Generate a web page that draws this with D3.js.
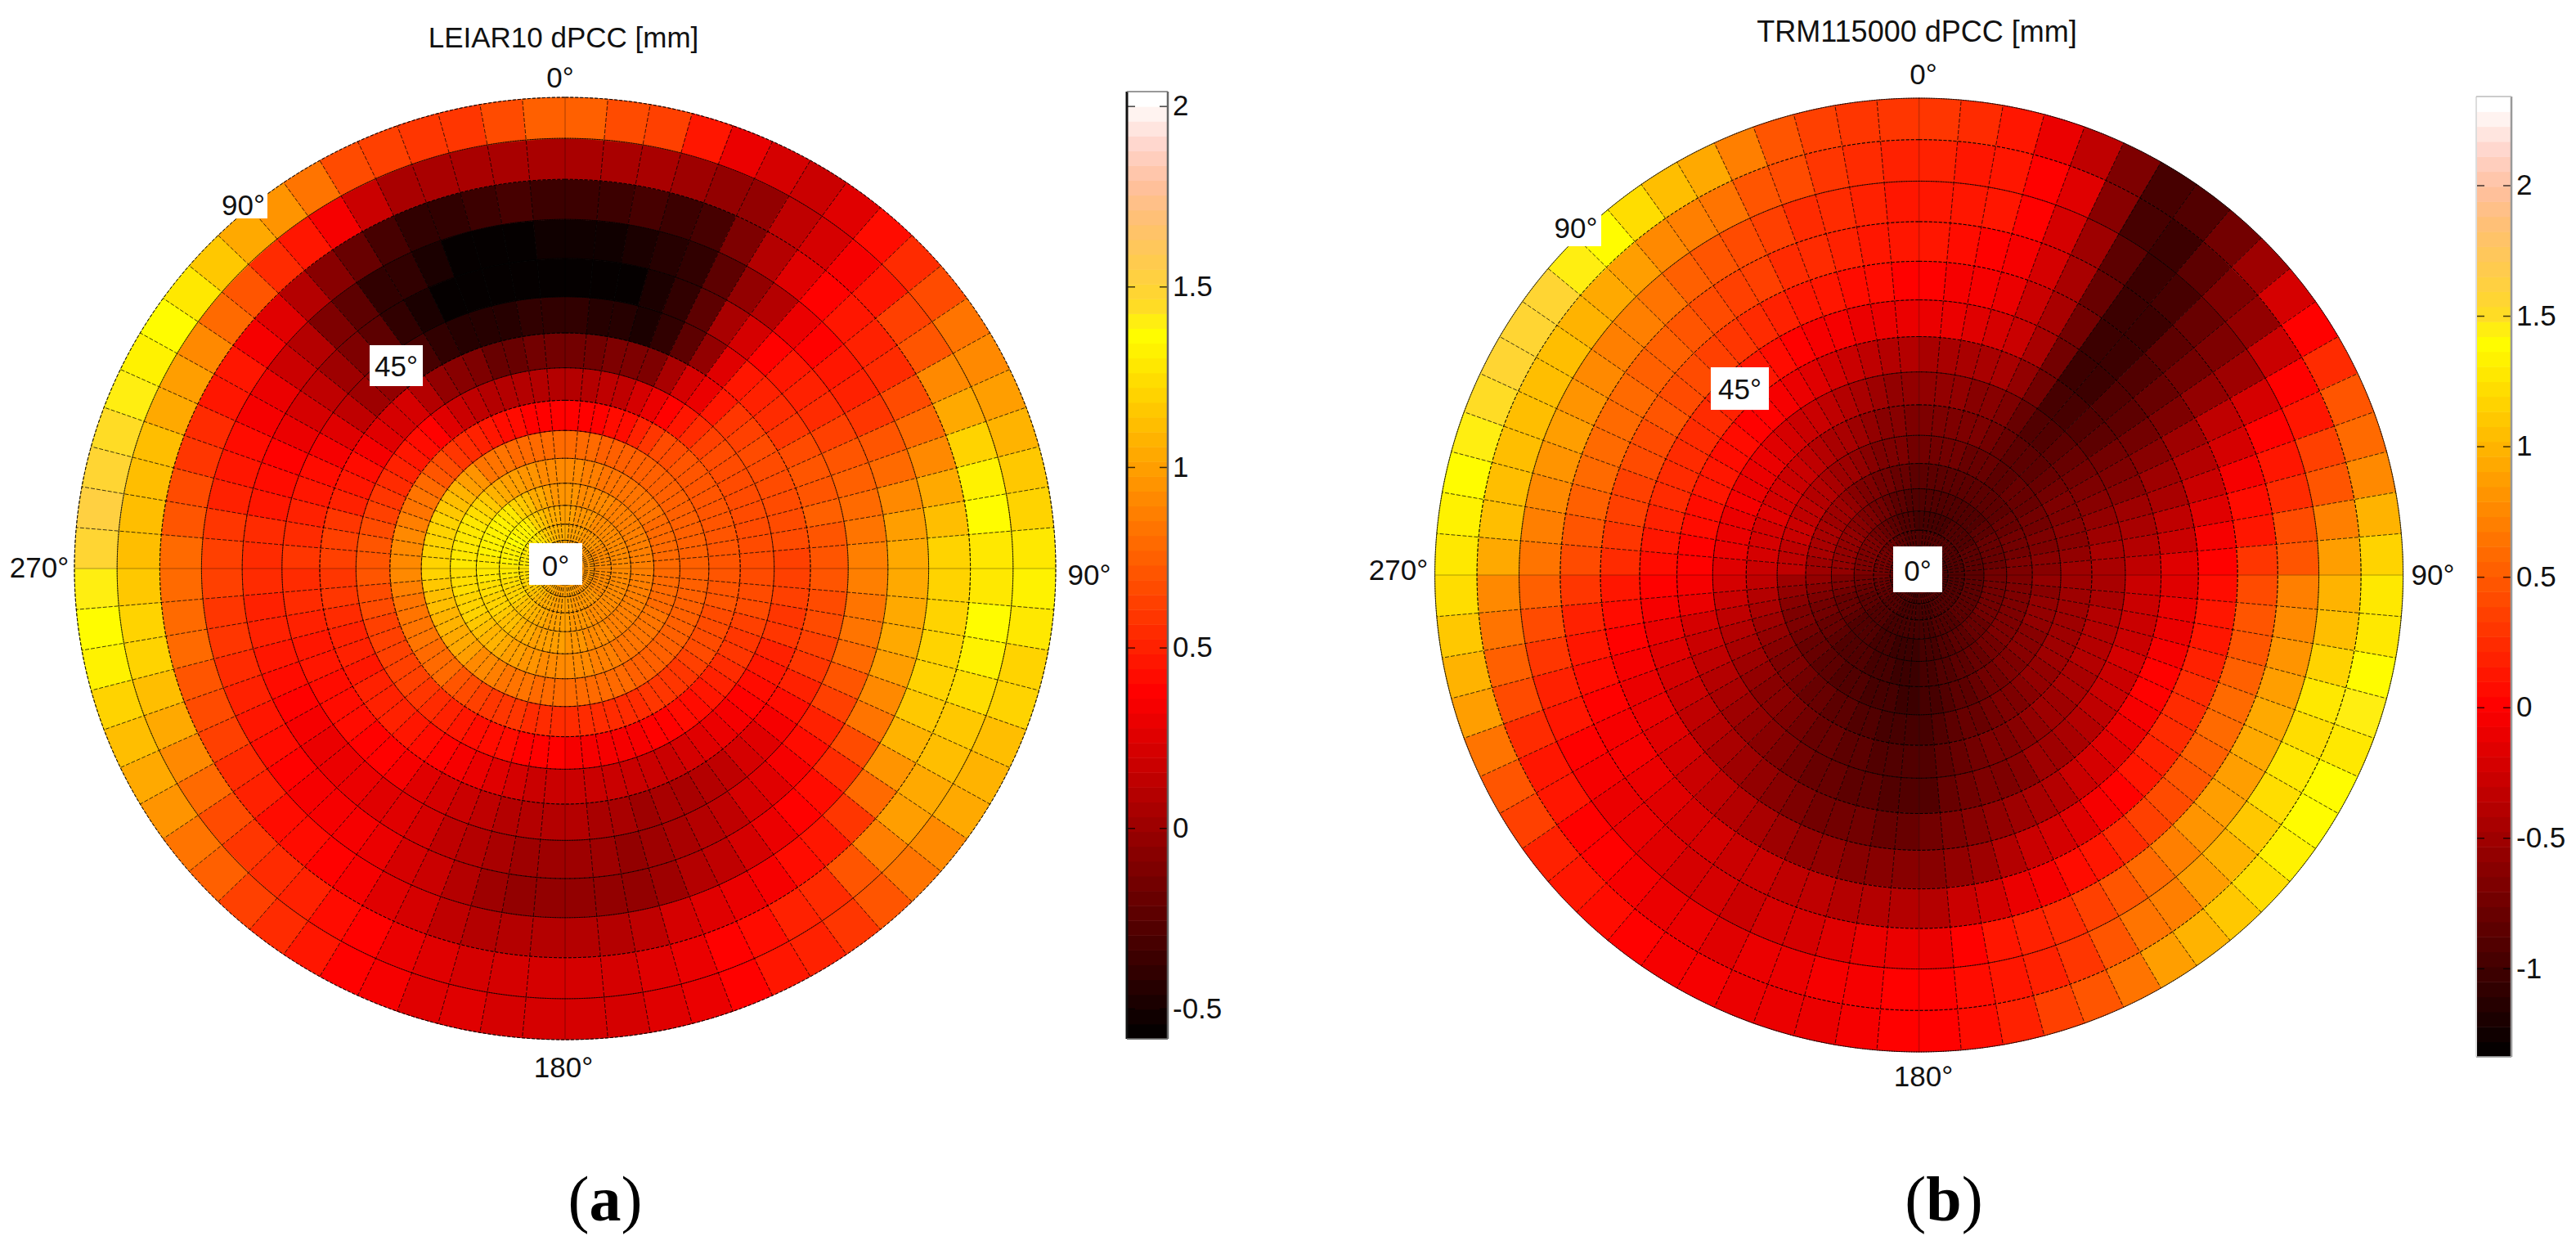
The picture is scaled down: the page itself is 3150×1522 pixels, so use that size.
<!DOCTYPE html>
<html>
<head>
<meta charset="utf-8">
<script src="https://d3js.org/d3.v7.min.js"></script>
<style>
  html, body { margin: 0; background: #fff; }
  text { font-family: "Liberation Sans", Arial, sans-serif; fill: #111; }
  .caption { font-family: "Liberation Serif", serif; font-size: 78px; fill: #000; }
</style>
</head>
<body>
<div id="container"></div>
<script>
const azimuths = d3.range(0, 360, 5);
const zenithEdges = [0, 5, 10, 15, 20, 25, 30, 35, 40, 45, 50, 55, 60, 65, 70, 75, 80, 85, 90];

const leiarTicks = [-0.5, 0, 0.5, 1, 1.5, 2];
const trmTicks = [-1, -0.5, 0, 0.5, 1, 1.5, 2];

// colour map, position 0..1 from the bottom
const mapStops = [0, 0.365, 0.746, 0.77, 0.803, 0.861, 0.904, 0.947, 0.99, 1];
const mapColors = ["#000000", "#ff0000", "#ffff00", "#ffdd22", "#ffd040", "#ffc070", "#ffc0a0", "#ffd8d0", "#ffffff", "#ffffff"];

// LEIAR10 dPCC [mm], one array per zenith ring, azimuth 0..355 clockwise in 5 deg steps
const leiarZ05 = [
  1,1,1,1,1,1,1,1,1,1,1,1,1,1,1,1,1,1,
  1,1,1,1,1,1,1,1,1,1,1,1,1,1,1,1,1,1,
  1,1,1,1,1,1,1,1,1,1,1,1,1,1,1,1,1,1,
  1,1,1,1,1,1,1,1,1,1,1,1,1,1,1,1,1,1];
const leiarZ10 = [
  1,1,1,1,1,1,.99,.99,.99,.99,.99,.99,.99,.99,.99,.99,.99,.99,
  .99,.99,.99,.99,.99,.99,.99,.99,.99,.99,.99,.99,.99,.99,.99,1,1,1,
  1,1,1,1,1,1,1,1,1.01,1.01,1.02,1.02,1.03,1.03,1.04,1.04,1.05,1.05,
  1.05,1.05,1.05,1.06,1.06,1.06,1.06,1.06,1.06,1.05,1.05,1.04,1.04,1.03,1.02,1.02,1.01,1];
const leiarZ15 = [
  1,1,1,.99,.99,.99,.98,.98,.98,.98,.97,.97,.97,.97,.97,.97,.97,.97,
  .97,.97,.97,.97,.97,.97,.97,.97,.98,.98,.98,.98,.98,.98,.99,.99,.99,1,
  1,1,1,1,1,1.01,1.02,1.02,1.03,1.04,1.05,1.06,1.07,1.08,1.09,1.1,1.1,1.1,
  1.1,1.11,1.12,1.12,1.12,1.13,1.13,1.13,1.12,1.12,1.1,1.09,1.08,1.06,1.05,1.03,1.02,1.01];
const leiarZ20 = [
  1.02,1.01,1,.99,.99,.98,.98,.97,.97,.96,.96,.96,.96,.96,.96,.96,.96,.96,
  .96,.96,.96,.96,.96,.96,.96,.96,.96,.96,.97,.97,.97,.98,.98,.98,.99,.99,
  1,1,1,1,1.01,1.02,1.03,1.04,1.05,1.07,1.08,1.09,1.1,1.12,1.13,1.15,1.16,1.18,
  1.2,1.2,1.2,1.21,1.21,1.22,1.22,1.22,1.21,1.2,1.17,1.15,1.12,1.1,1.07,1.05,1.04,1.03];
const leiarZ25 = [
  1.02,1,.99,.98,.98,.97,.96,.95,.94,.94,.94,.93,.93,.93,.93,.93,.93,.93,
  .93,.93,.93,.93,.93,.93,.93,.93,.94,.94,.94,.95,.95,.96,.96,.97,.98,.99,
  1,1,1,1.01,1.02,1.03,1.05,1.06,1.08,1.1,1.13,1.15,1.17,1.19,1.21,1.23,1.24,1.25,
  1.27,1.27,1.28,1.29,1.29,1.3,1.3,1.3,1.28,1.27,1.24,1.2,1.16,1.12,1.09,1.06,1.04,1.03];
const leiarZ30 = [
  1,.98,.97,.96,.95,.94,.93,.92,.91,.9,.9,.9,.9,.9,.9,.9,.9,.9,
  .9,.9,.9,.9,.9,.9,.9,.9,.91,.91,.92,.92,.93,.94,.95,.96,.97,.98,
  1,1,1,1.01,1.02,1.04,1.06,1.08,1.1,1.13,1.16,1.18,1.2,1.22,1.24,1.26,1.28,1.29,
  1.3,1.31,1.32,1.33,1.34,1.35,1.35,1.34,1.33,1.32,1.28,1.22,1.17,1.12,1.08,1.05,1.02,1];
const leiarZ35 = [
  .95,.95,.93,.92,.92,.9,.9,.88,.88,.87,.87,.87,.86,.86,.86,.86,.86,.87,
  .87,.87,.87,.87,.87,.88,.88,.88,.88,.88,.89,.9,.91,.92,.93,.94,.95,.96,
  .98,.98,.98,1,1.01,1.03,1.05,1.07,1.1,1.13,1.16,1.18,1.2,1.22,1.24,1.26,1.27,1.28,
  1.3,1.3,1.31,1.32,1.33,1.33,1.33,1.32,1.3,1.27,1.2,1.15,1.1,1.05,1.02,1,.97,.95];
const leiarZ40 = [
  .9,.9,.88,.87,.85,.85,.84,.83,.82,.82,.81,.81,.8,.8,.8,.8,.8,.8,
  .8,.8,.8,.8,.8,.81,.82,.82,.82,.82,.83,.85,.86,.87,.88,.9,.9,.92,
  .93,.93,.93,.95,.97,.98,1,1.03,1.06,1.08,1.12,1.15,1.18,1.2,1.22,1.24,1.25,1.26,
  1.27,1.28,1.28,1.28,1.27,1.27,1.25,1.2,1.15,1.07,1.02,1,.98,.96,.94,.92,.9,.9];
const leiarZ45 = [
  .8,.8,.78,.76,.75,.75,.75,.75,.75,.75,.74,.74,.74,.74,.74,.74,.74,.74,
  .73,.74,.74,.74,.74,.74,.75,.75,.75,.74,.75,.76,.77,.78,.78,.78,.79,.8,
  .8,.8,.8,.82,.83,.85,.87,.9,.93,.98,1.02,1.05,1.07,1.08,1.1,1.12,1.15,1.18,
  1.2,1.2,1.2,1.2,1.18,1.15,1.12,1.06,1,.95,.85,.83,.82,.8,.8,.8,.8,.8];
const leiarZ50 = [
  .38,.38,.38,.4,.43,.5,.6,.65,.68,.7,.7,.7,.7,.7,.7,.7,.7,.7,
  .7,.7,.7,.68,.67,.65,.65,.63,.6,.6,.58,.57,.56,.55,.55,.55,.55,.55,
  .55,.55,.55,.57,.58,.6,.62,.67,.72,.78,.8,.8,.82,.82,.83,.85,.88,.9,
  .92,.92,.9,.88,.85,.82,.78,.72,.68,.6,.55,.5,.46,.43,.4,.38,.38,.38];
const leiarZ55 = [
  .1,.1,.12,.15,.2,.28,.38,.45,.55,.62,.65,.67,.68,.68,.68,.67,.67,.67,
  .67,.67,.65,.63,.6,.57,.55,.52,.47,.42,.4,.37,.36,.35,.34,.33,.32,.35,
  .38,.38,.38,.4,.4,.42,.45,.5,.55,.6,.62,.62,.62,.62,.64,.66,.68,.7,
  .72,.7,.67,.63,.6,.55,.5,.46,.42,.38,.25,.18,.12,.1,.08,.08,.1,.1];
const leiarZ60 = [
  -.14,-.14,-.13,-.13,-.1,.05,.2,.3,.45,.6,.62,.65,.67,.68,.68,.66,.65,.64,
  .64,.63,.6,.58,.52,.47,.42,.38,.33,.28,.24,.2,.18,.17,.16,.17,.18,.18,
  .18,.18,.2,.24,.28,.33,.38,.42,.47,.52,.5,.5,.48,.5,.52,.55,.58,.6,
  .62,.62,.58,.52,.47,.4,.32,.25,.2,.2,.1,-.02,-.08,-.12,-.18,-.18,-.15,-.14];
const leiarZ65 = [
  -.42,-.43,-.44,-.47,-.42,-.22,-.02,.25,.45,.5,.55,.6,.66,.7,.72,.74,.72,.7,
  .7,.68,.65,.62,.58,.5,.43,.35,.27,.23,.15,.1,.06,.06,.03,.05,.07,.08,
  .08,.08,.1,.14,.18,.22,.27,.32,.36,.38,.4,.42,.42,.45,.48,.5,.53,.56,
  .58,.56,.5,.46,.42,.34,.25,.15,.03,-.05,-.18,-.3,-.42,-.46,-.46,-.44,-.42,-.42];
const leiarZ70 = [
  -.57,-.58,-.56,-.5,-.42,-.22,.05,.2,.38,.45,.5,.55,.63,.7,.75,.8,.85,.87,
  .87,.85,.82,.78,.72,.62,.5,.42,.35,.27,.2,.15,.1,.05,0,-.01,0,0,
  0,0,.04,.09,.15,.2,.24,.27,.28,.29,.31,.34,.38,.42,.46,.5,.52,.55,
  .55,.53,.48,.44,.38,.3,.22,.12,.02,-.1,-.25,-.4,-.48,-.55,-.58,-.58,-.58,-.57];
const leiarZ75 = [
  -.53,-.53,-.5,-.46,-.42,-.25,-.05,.1,.3,.38,.45,.5,.6,.7,.8,.9,1,1.03,
  1.03,1.03,1.02,.98,.92,.82,.68,.55,.42,.38,.28,.2,.15,.08,.02,-.02,-.02,-.02,
  -.02,-.02,.02,.08,.16,.23,.28,.32,.33,.33,.37,.4,.45,.5,.55,.58,.6,.62,
  .62,.58,.52,.48,.42,.35,.28,.18,.08,-.1,-.25,-.38,-.42,-.48,-.56,-.56,-.55,-.54];
const leiarZ80 = [
  -.35,-.35,-.33,-.36,-.32,-.1,.1,.25,.38,.45,.5,.55,.67,.8,.9,1.03,1.12,1.18,
  1.2,1.22,1.22,1.22,1.15,1.08,.95,.8,.6,.47,.42,.35,.3,.25,.2,.14,.1,.08,
  .08,.08,.1,.14,.2,.27,.33,.38,.4,.42,.5,.55,.62,.68,.72,.78,.8,.8,
  .8,.72,.66,.6,.55,.47,.45,.35,.25,.08,-.06,-.2,-.3,-.38,-.4,-.35,-.33,-.35];
const leiarZ85 = [
  .06,.06,.05,0,-.02,-.05,.13,.22,.33,.47,.62,.7,.9,1.03,1.2,1.33,1.36,1.3,
  1.28,1.36,1.33,1.25,1.15,1.12,1.05,.98,.87,.72,.56,.5,.44,.38,.3,.24,.2,.2,
  .2,.2,.22,.25,.3,.36,.43,.5,.56,.6,.68,.8,.92,1.03,1.12,1.2,1.22,1.15,
  1.12,1.1,1.1,1.1,1.05,.98,.9,.8,.7,.55,.45,.32,.18,.05,.05,.07,.07,.06];
const leiarZ90 = [
  .75,.68,.62,.47,.3,.2,.17,.26,.41,.56,.68,.85,.93,1,1.07,1.14,1.2,1.3,
  1.33,1.3,1.22,1.18,1.12,1.08,1.03,.93,.82,.7,.6,.52,.46,.36,.3,.25,.23,.22,
  .22,.22,.24,.27,.33,.38,.45,.53,.62,.73,.85,.95,1.03,1.12,1.2,1.32,1.36,1.42,
  1.5,1.52,1.5,1.46,1.42,1.34,1.36,1.3,1.16,1.05,.95,.82,.68,.62,.57,.6,.65,.75];

// TRM115000 dPCC [mm]
const trmZ05 = [
  -.85,-.85,-.85,-.85,-.85,-.85,-.85,-.85,-.85,-.85,-.85,-.85,-.85,-.85,-.85,-.85,-.85,-.85,
  -.85,-.85,-.85,-.85,-.85,-.85,-.85,-.85,-.85,-.85,-.85,-.85,-.85,-.85,-.85,-.85,-.85,-.85,
  -.85,-.85,-.85,-.85,-.85,-.85,-.85,-.85,-.85,-.85,-.85,-.85,-.85,-.85,-.85,-.85,-.85,-.85,
  -.85,-.85,-.85,-.85,-.85,-.85,-.85,-.85,-.85,-.85,-.85,-.85,-.85,-.85,-.85,-.85,-.85,-.85];
const trmZ10 = [
  -.86,-.86,-.86,-.86,-.86,-.86,-.86,-.86,-.86,-.86,-.86,-.86,-.86,-.86,-.86,-.86,-.86,-.86,
  -.86,-.86,-.86,-.86,-.86,-.86,-.86,-.86,-.86,-.86,-.87,-.87,-.87,-.87,-.87,-.87,-.87,-.87,
  -.87,-.87,-.87,-.87,-.87,-.86,-.86,-.86,-.86,-.85,-.85,-.85,-.85,-.84,-.84,-.84,-.84,-.83,
  -.83,-.83,-.83,-.83,-.83,-.83,-.84,-.84,-.84,-.84,-.85,-.85,-.85,-.85,-.85,-.86,-.86,-.86];
const trmZ15 = [
  -.88,-.88,-.88,-.88,-.88,-.88,-.88,-.88,-.88,-.87,-.87,-.87,-.87,-.87,-.87,-.87,-.87,-.87,
  -.87,-.87,-.87,-.87,-.87,-.87,-.87,-.87,-.87,-.88,-.88,-.88,-.88,-.89,-.89,-.89,-.89,-.9,
  -.9,-.9,-.9,-.9,-.9,-.89,-.89,-.88,-.88,-.87,-.87,-.86,-.86,-.85,-.84,-.83,-.82,-.81,
  -.8,-.8,-.8,-.8,-.8,-.8,-.81,-.81,-.82,-.83,-.84,-.85,-.85,-.86,-.87,-.87,-.87,-.88];
const trmZ20 = [
  -.9,-.9,-.9,-.9,-.9,-.9,-.9,-.9,-.9,-.89,-.89,-.89,-.89,-.89,-.89,-.88,-.88,-.88,
  -.88,-.88,-.88,-.88,-.88,-.88,-.88,-.88,-.89,-.89,-.9,-.9,-.91,-.91,-.92,-.92,-.93,-.93,
  -.94,-.94,-.94,-.93,-.93,-.92,-.92,-.91,-.9,-.89,-.88,-.87,-.86,-.85,-.83,-.82,-.8,-.78,
  -.77,-.76,-.76,-.76,-.76,-.77,-.77,-.78,-.79,-.8,-.82,-.83,-.85,-.86,-.87,-.88,-.89,-.9];
const trmZ25 = [
  -.92,-.92,-.92,-.92,-.92,-.92,-.92,-.92,-.92,-.91,-.91,-.91,-.9,-.9,-.9,-.9,-.9,-.9,
  -.9,-.9,-.9,-.9,-.9,-.9,-.9,-.9,-.91,-.91,-.92,-.92,-.93,-.93,-.94,-.94,-.95,-.95,
  -.96,-.96,-.96,-.95,-.95,-.94,-.93,-.92,-.91,-.9,-.89,-.87,-.85,-.84,-.82,-.8,-.78,-.75,
  -.72,-.72,-.71,-.71,-.72,-.72,-.73,-.75,-.77,-.79,-.81,-.83,-.85,-.87,-.88,-.9,-.91,-.92];
const trmZ30 = [
  -.95,-.95,-.95,-.95,-.95,-.94,-.93,-.92,-.92,-.9,-.9,-.88,-.87,-.86,-.85,-.85,-.85,-.85,
  -.85,-.84,-.84,-.84,-.84,-.84,-.84,-.85,-.86,-.87,-.88,-.9,-.91,-.92,-.93,-.95,-.96,-.97,
  -.97,-.97,-.97,-.97,-.96,-.95,-.94,-.93,-.92,-.9,-.89,-.87,-.85,-.83,-.8,-.78,-.75,-.72,
  -.67,-.66,-.65,-.65,-.65,-.66,-.67,-.69,-.72,-.75,-.77,-.8,-.83,-.85,-.88,-.9,-.92,-.94];
const trmZ35 = [
  -.92,-.92,-.92,-.92,-.92,-.9,-.9,-.9,-.9,-.88,-.86,-.84,-.82,-.8,-.79,-.78,-.77,-.76,
  -.75,-.75,-.74,-.74,-.74,-.75,-.76,-.77,-.79,-.8,-.83,-.85,-.87,-.9,-.92,-.95,-.97,-.98,
  -1,-1,-1,-1,-.98,-.97,-.95,-.93,-.92,-.9,-.88,-.85,-.82,-.8,-.77,-.73,-.7,-.65,
  -.58,-.57,-.56,-.55,-.56,-.57,-.58,-.6,-.63,-.66,-.7,-.73,-.76,-.8,-.83,-.86,-.88,-.9];
const trmZ40 = [
  -.85,-.85,-.85,-.85,-.85,-.85,-.86,-.87,-.87,-.85,-.83,-.8,-.78,-.76,-.74,-.72,-.7,-.68,
  -.67,-.68,-.66,-.66,-.67,-.67,-.68,-.7,-.72,-.75,-.78,-.8,-.83,-.87,-.9,-.92,-.96,-.98,
  -1,-1,-1,-.98,-.97,-.95,-.93,-.92,-.9,-.88,-.85,-.82,-.78,-.75,-.72,-.67,-.62,-.57,
  -.5,-.48,-.47,-.45,-.45,-.47,-.48,-.5,-.53,-.56,-.6,-.65,-.68,-.72,-.75,-.78,-.8,-.83];
const trmZ45 = [
  -.75,-.75,-.75,-.76,-.77,-.78,-.8,-.83,-.85,-.82,-.8,-.77,-.75,-.72,-.7,-.67,-.64,-.62,
  -.58,-.6,-.58,-.58,-.58,-.6,-.6,-.62,-.65,-.68,-.72,-.75,-.78,-.83,-.87,-.9,-.95,-.98,
  -1,-1,-.98,-.97,-.95,-.93,-.92,-.9,-.87,-.85,-.82,-.78,-.75,-.7,-.65,-.6,-.55,-.48,
  -.35,-.33,-.32,-.3,-.3,-.32,-.33,-.37,-.4,-.43,-.48,-.52,-.57,-.6,-.65,-.68,-.7,-.73];
const trmZ50 = [
  -.67,-.67,-.67,-.68,-.7,-.72,-.78,-.85,-.85,-.83,-.8,-.75,-.7,-.67,-.63,-.6,-.56,-.53,
  -.5,-.52,-.5,-.5,-.5,-.5,-.52,-.55,-.58,-.62,-.65,-.68,-.72,-.77,-.82,-.87,-.9,-.95,
  -.97,-.96,-.94,-.92,-.9,-.87,-.85,-.82,-.78,-.75,-.7,-.66,-.62,-.58,-.52,-.46,-.4,-.33,
  -.25,-.22,-.2,-.2,-.18,-.2,-.22,-.25,-.28,-.32,-.37,-.42,-.47,-.52,-.57,-.6,-.63,-.65];
const trmZ55 = [
  -.58,-.58,-.58,-.6,-.62,-.68,-.78,-.9,-.9,-.85,-.8,-.75,-.68,-.62,-.57,-.52,-.47,-.44,
  -.42,-.42,-.4,-.4,-.38,-.4,-.42,-.45,-.48,-.52,-.57,-.6,-.65,-.7,-.75,-.8,-.85,-.9,
  -.92,-.9,-.88,-.86,-.83,-.8,-.77,-.72,-.68,-.64,-.6,-.55,-.5,-.46,-.4,-.33,-.27,-.2,
  -.15,-.12,-.1,-.08,-.06,-.08,-.1,-.13,-.17,-.2,-.25,-.3,-.35,-.4,-.45,-.5,-.55,-.57];
const trmZ60 = [
  -.42,-.42,-.42,-.43,-.47,-.55,-.72,-.95,-.98,-.9,-.83,-.76,-.68,-.6,-.53,-.46,-.4,-.35,
  -.3,-.28,-.27,-.25,-.23,-.25,-.27,-.32,-.37,-.42,-.48,-.53,-.6,-.65,-.7,-.75,-.82,-.88,
  -.92,-.9,-.87,-.85,-.82,-.78,-.72,-.66,-.62,-.56,-.5,-.45,-.4,-.35,-.28,-.22,-.13,-.05,
  0,.02,.05,.08,.1,.1,.08,.05,.03,0,-.05,-.12,-.18,-.23,-.28,-.33,-.38,-.4];
const trmZ65 = [
  -.12,-.13,-.17,-.22,-.3,-.45,-.72,-1.02,-1.02,-.93,-.83,-.72,-.62,-.52,-.42,-.33,-.25,-.18,
  -.14,-.12,-.08,-.05,0,0,-.05,-.1,-.15,-.22,-.3,-.37,-.43,-.5,-.57,-.62,-.7,-.75,
  -.78,-.78,-.76,-.74,-.72,-.68,-.62,-.56,-.5,-.44,-.38,-.33,-.27,-.22,-.14,-.08,-.03,.02,
  .08,.13,.18,.22,.25,.25,.25,.22,.2,.15,.1,.05,.02,-.03,-.05,-.08,-.1,-.11];
const trmZ70 = [
  0,-.03,-.06,-.12,-.25,-.45,-.75,-1.05,-1,-.9,-.78,-.65,-.52,-.4,-.28,-.15,-.05,.03,
  .07,.1,.12,.2,.27,.27,.22,.18,.1,.02,-.05,-.15,-.22,-.3,-.4,-.48,-.55,-.6,
  -.62,-.62,-.6,-.58,-.55,-.5,-.45,-.4,-.35,-.28,-.22,-.17,-.12,-.08,-.03,.02,.06,.12,
  .22,.3,.33,.37,.42,.42,.45,.42,.4,.35,.3,.25,.2,.15,.1,.08,.05,.02];
const trmZ75 = [
  .1,.08,.03,-.05,-.22,-.45,-.8,-1.05,-1,-.85,-.72,-.55,-.35,-.2,-.05,.05,.15,.28,
  .42,.45,.48,.55,.6,.58,.55,.5,.42,.35,.25,.15,.05,-.02,-.12,-.2,-.3,-.38,
  -.4,-.4,-.38,-.36,-.33,-.3,-.27,-.24,-.2,-.15,-.12,-.07,-.02,.02,.07,.12,.2,.3,
  .42,.48,.52,.58,.6,.6,.58,.55,.52,.47,.42,.38,.33,.27,.22,.18,.15,.12];
const trmZ80 = [
  .15,.13,.1,0,-.2,-.5,-.85,-1.03,-.98,-.82,-.7,-.5,-.2,0,.15,.25,.42,.5,
  .7,.75,.8,.88,.93,.92,.9,.87,.8,.7,.6,.5,.38,.27,.18,.1,0,-.1,
  -.12,-.13,-.15,-.2,-.22,-.25,-.22,-.2,-.15,-.12,-.08,-.03,.03,.12,.2,.3,.42,.55,
  .65,.72,.78,.82,.85,.82,.78,.72,.7,.62,.55,.48,.4,.33,.27,.22,.18,.15];
const trmZ85 = [
  .18,.15,.13,0,-.18,-.6,-.95,-1,-.85,-.7,-.55,-.3,0,.15,.33,.45,.7,.9,
  1,1.02,1.17,1.25,1.2,1.28,1.2,1.13,1,.9,.7,.62,.45,.3,.18,.13,.05,0,
  0,-.03,-.05,-.1,-.13,-.15,-.12,-.1,-.05,0,.03,.1,.15,.27,.42,.55,.65,.77,
  .95,1.02,1.04,1.05,1.07,1.05,1.05,1,.95,.85,.75,.7,.62,.5,.4,.3,.25,.2];
const trmZ90 = [
  .32,.25,.1,-.1,-.35,-.7,-.95,-.92,-.72,-.5,-.2,0,.25,.48,.6,.75,1,1.15,
  1.28,1.3,1.39,1.45,1.3,1.38,1.39,1.35,1.2,1.1,1,.85,.65,.5,.35,.2,.05,0,
  0,-.03,-.1,-.12,-.1,-.05,-.02,0,.05,.1,.2,.35,.47,.65,.85,.97,1.1,1.22,
  1.28,1.35,1.39,1.44,1.48,1.56,1.58,1.55,1.45,1.38,1.2,1.07,.95,.7,.45,.35,.3,.3];

const leiarRings = [leiarZ05, leiarZ10, leiarZ15, leiarZ20, leiarZ25, leiarZ30, leiarZ35, leiarZ40, leiarZ45,
  leiarZ50, leiarZ55, leiarZ60, leiarZ65, leiarZ70, leiarZ75, leiarZ80, leiarZ85, leiarZ90];
const trmRings = [trmZ05, trmZ10, trmZ15, trmZ20, trmZ25, trmZ30, trmZ35, trmZ40, trmZ45,
  trmZ50, trmZ55, trmZ60, trmZ65, trmZ70, trmZ75, trmZ80, trmZ85, trmZ90];

const width = 3150, height = 1522;

const svg = d3.select("#container").append("svg")
  .attr("width", width)
  .attr("height", height)
  .style("display", "block");

// radius of a zenith angle on the unit disc, the rings follow 1 - cos(z)
const zenithRadius = z => 1 - Math.cos(z * Math.PI / 180);
const deg = d3.scaleLinear().domain([0, 360]).range([0, 2 * Math.PI]);

const unitArc = d3.arc();

function drawPanel(p) {
  const colorAt = d3.scaleLinear().domain(mapStops).range(mapColors);
  const levels = d3.range(64).map(i => colorAt((i + 0.5) / 64));
  const color = d3.scaleQuantize().domain(p.range).range(levels);

  const disc = svg.append("g")
    .attr("transform", `translate(${p.cx},${p.cy}) scale(${p.rx},${p.ry})`);

  const cells = [];
  p.rings.forEach((ring, i) => {
    ring.forEach((value, j) => {
      cells.push({
        value,
        innerRadius: zenithRadius(zenithEdges[i]),
        outerRadius: zenithRadius(zenithEdges[i + 1]),
        startAngle: deg(azimuths[j]),
        endAngle: deg(azimuths[j] + 5)
      });
    });
  });

  disc.selectAll("path.cell")
    .data(cells)
    .enter().append("path")
    .attr("class", "cell")
    .attr("d", unitArc)
    .attr("fill", d => color(d.value))
    .attr("stroke", d => color(d.value))
    .attr("stroke-width", 0.7)
    .attr("vector-effect", "non-scaling-stroke");

  // grid, dashed thin black like the downsampled original
  disc.selectAll("path.ringline")
    .data(zenithEdges.slice(1))
    .enter().append("path")
    .attr("class", "ringline")
    .attr("d", z => unitArc({
      innerRadius: zenithRadius(z),
      outerRadius: zenithRadius(z),
      startAngle: 0,
      endAngle: 2 * Math.PI
    }))
    .attr("fill", "none")
    .attr("stroke", "#000")
    .attr("stroke-opacity", 0.75)
    .attr("stroke-width", 1)
    .attr("stroke-dasharray", "4,2")
    .attr("vector-effect", "non-scaling-stroke");

  disc.selectAll("line.spoke")
    .data(azimuths)
    .enter().append("line")
    .attr("class", "spoke")
    .attr("x1", a => zenithRadius(5) * Math.sin(deg(a)))
    .attr("y1", a => -zenithRadius(5) * Math.cos(deg(a)))
    .attr("x2", a => Math.sin(deg(a)))
    .attr("y2", a => -Math.cos(deg(a)))
    .attr("stroke", "#000")
    .attr("stroke-opacity", a => a % 90 === 0 ? 0.22 : 0.75)
    .attr("stroke-width", a => a % 90 === 0 ? 1.5 : 1)
    .attr("stroke-dasharray", a => a % 90 === 0 ? null : "5,2")
    .attr("vector-effect", "non-scaling-stroke");

  // labels with white boxes inside the disc
  p.boxes.forEach(b => {
    svg.append("rect")
      .attr("x", b.x0).attr("y", b.y0)
      .attr("width", b.x1 - b.x0).attr("height", b.y1 - b.y0)
      .attr("fill", "#fff");
    svg.append("text")
      .attr("x", (b.x0 + b.x1) / 2)
      .attr("y", b.base)
      .attr("text-anchor", "middle")
      .attr("font-size", 35)
      .text(b.text);
  });

  p.labels.forEach(l => {
    svg.append("text")
      .attr("x", l.x).attr("y", l.y)
      .attr("text-anchor", "middle")
      .attr("font-size", l.size || 35)
      .text(l.text);
  });

  // colour bar
  const barY = d3.scaleLinear().domain(p.range).range([p.bar.y1, p.bar.y0]);
  const bandH = (p.bar.y1 - p.bar.y0) / levels.length;
  const bar = svg.append("g");

  bar.selectAll("rect")
    .data(levels)
    .enter().append("rect")
    .attr("x", p.bar.x0)
    .attr("width", p.bar.x1 - p.bar.x0)
    .attr("y", (d, i) => p.bar.y1 - (i + 1) * bandH)
    .attr("height", bandH + 0.5)
    .attr("fill", d => d);

  const axisRight = d3.axisRight(barY)
    .tickValues(p.ticks)
    .tickSize(-10)
    .tickPadding(6)
    .tickFormat(d3.format("~g"));
  const axisLeft = d3.axisLeft(barY)
    .tickValues(p.ticks)
    .tickSize(-10)
    .tickFormat("");

  const gr = svg.append("g").attr("transform", `translate(${p.bar.x1},0)`).call(axisRight);
  const gl = svg.append("g").attr("transform", `translate(${p.bar.x0},0)`).call(axisLeft);
  gr.selectAll(".domain").remove();
  gl.selectAll(".domain").remove();
  gr.selectAll("text").attr("font-size", 35)
    .style("font-family", '"Liberation Sans", Arial, sans-serif')
    .text(d => d3.format("~g")(d).replace("\u2212", "-"));
  svg.selectAll(".tick line").attr("stroke", "#000").attr("stroke-opacity", 0.75).attr("stroke-width", 1.5);

  [
    [p.bar.x0, p.bar.y0, p.bar.x0, p.bar.y1, p.bar.left, p.bar.leftW],
    [p.bar.x1, p.bar.y0, p.bar.x1, p.bar.y1, p.bar.right, 2.5],
    [p.bar.x0, p.bar.y0, p.bar.x1, p.bar.y0, p.bar.top, 1.5],
    [p.bar.x0, p.bar.y1, p.bar.x1, p.bar.y1, p.bar.top, 1.5]
  ].forEach(s => {
    svg.append("line")
      .attr("x1", s[0]).attr("y1", s[1]).attr("x2", s[2]).attr("y2", s[3])
      .attr("stroke", s[4]).attr("stroke-width", s[5]);
  });

  svg.append("text")
    .attr("class", "caption")
    .attr("x", p.caption.x).attr("y", p.caption.y)
    .attr("text-anchor", "middle")
    .html(`(<tspan font-weight="bold">${p.caption.letter}</tspan>)`);
}

drawPanel({
  cx: 691, cy: 695, rx: 600, ry: 576,
  rings: leiarRings,
  range: [-0.584, 2.04],
  ticks: leiarTicks,
  bar: { x0: 1378, x1: 1428, y0: 112, y1: 1270, left: "#111", leftW: 3, right: "#666", top: "#777" },
  caption: { x: 740, y: 1492, letter: "a" },
  boxes: [
    { x0: 268, x1: 327, y0: 234, y1: 267, text: "90°", base: 263 },
    { x0: 452, x1: 517, y0: 422, y1: 472, text: "45°", base: 460 },
    { x0: 647, x1: 712, y0: 664, y1: 715, text: "0°", base: 704 }
  ],
  labels: [
    { x: 689, y: 58, text: "LEIAR10 dPCC [mm]" },
    { x: 685, y: 107, text: "0°" },
    { x: 1332, y: 715, text: "90°" },
    { x: 48, y: 706, text: "270°" },
    { x: 689, y: 1317, text: "180°" }
  ]
});

drawPanel({
  cx: 2346.6, cy: 703, rx: 592, ry: 583,
  rings: trmRings,
  range: [-1.339, 2.34],
  ticks: trmTicks,
  bar: { x0: 3028, x1: 3071, y0: 118, y1: 1292, left: "#ddd", leftW: 2, right: "#999", top: "#bbb" },
  caption: { x: 2377, y: 1492, letter: "b" },
  boxes: [
    { x0: 1896, x1: 1958, y0: 259, y1: 301, text: "90°", base: 291 },
    { x0: 2092, x1: 2163, y0: 449, y1: 501, text: "45°", base: 488 },
    { x0: 2315, x1: 2375, y0: 668, y1: 724, text: "0°", base: 710 }
  ],
  labels: [
    { x: 2344, y: 51, text: "TRM115000 dPCC [mm]", size: 36 },
    { x: 2352, y: 103, text: "0°" },
    { x: 2975, y: 715, text: "90°" },
    { x: 1710, y: 709, text: "270°" },
    { x: 2352, y: 1328, text: "180°" }
  ]
});
</script>
</body>
</html>
